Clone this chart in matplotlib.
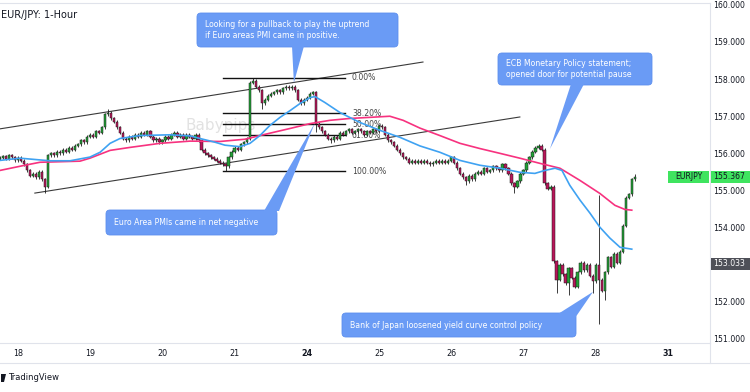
import matplotlib
matplotlib.use("Agg")
import matplotlib.pyplot as plt
from matplotlib.patches import FancyBboxPatch, Polygon, Rectangle
from matplotlib.lines import Line2D

# hourly candles, hour 0 = start of the 18th, weekend removed
first_hour = -6
first_open = 155.85
closes = [
    155.88, 155.92, 155.85, 155.95, 155.90, 155.82, 155.88, 155.80, 155.70, 155.55, 155.40, 155.45,
    155.35, 155.50, 155.30, 155.10, 155.95, 156.00, 155.95, 156.05, 156.00, 156.10, 156.05, 156.15,
    156.10, 156.20, 156.25, 156.35, 156.30, 156.45, 156.50, 156.45, 156.60, 156.55, 156.70, 157.05,
    157.10, 156.95, 156.85, 156.70, 156.55, 156.40, 156.35, 156.45, 156.40, 156.50, 156.45, 156.55,
    156.50, 156.60, 156.45, 156.35, 156.40, 156.30, 156.35, 156.45, 156.40, 156.50, 156.55, 156.45,
    156.50, 156.40, 156.50, 156.45, 156.40, 156.50, 156.35, 156.10, 156.00, 155.95, 155.90, 155.85,
    155.80, 155.75, 155.70, 155.65, 155.90, 156.05, 156.15, 156.10, 156.25, 156.30, 156.40, 157.90,
    157.95, 157.80, 157.70, 157.35, 157.45, 157.55, 157.60, 157.65, 157.70, 157.65, 157.75, 157.80,
    157.75, 157.80, 157.70, 157.45, 157.35, 157.45, 157.50, 157.60, 157.65, 156.80, 156.70, 156.60,
    156.50, 156.40, 156.35, 156.45, 156.40, 156.55, 156.50, 156.60, 156.65, 156.55, 156.60, 156.65,
    156.60, 156.50, 156.60, 156.55, 156.65, 156.60, 156.75, 156.70, 156.50, 156.35, 156.30, 156.20,
    156.10, 156.00, 155.90, 155.85, 155.75, 155.80, 155.75, 155.80, 155.75, 155.80, 155.75, 155.70,
    155.75, 155.80, 155.75, 155.80, 155.75, 155.80, 155.90, 155.75, 155.60, 155.45, 155.35, 155.25,
    155.40, 155.30, 155.45, 155.50, 155.45, 155.60, 155.50, 155.55, 155.65, 155.60, 155.55, 155.70,
    155.60, 155.45, 155.20, 155.10, 155.25, 155.45, 155.55, 155.75, 155.90, 156.05, 156.15, 156.20,
    156.10, 155.20, 155.05, 155.10, 153.10, 152.60, 153.00, 152.75, 152.50, 152.90, 152.65, 152.40,
    152.80, 153.05, 152.85, 153.00, 152.70, 152.55, 153.00, 152.60, 152.30, 152.80, 153.20, 152.95,
    153.30, 153.05, 153.35, 154.05, 154.80, 154.90, 155.30, 155.367,
]
highs = {30: 157.20, 78: 158.04, 92: 157.85, 173: 156.25, 193: 154.87, 205: 155.45}
lows = {9: 154.93, 69: 155.52, 81: 157.20, 99: 156.57, 104: 156.28, 149: 155.15,
        165: 154.92, 179: 152.25, 183: 152.18, 191: 152.25, 193: 151.40, 195: 152.05}

# moving averages
fast_h = [-6, 0.7, 10.6, 17.3, 23.9, 27.3, 30.6, 33.9, 40.5, 50.5, 57.2, 60.5, 65.5, 68.8,
          73.8, 77.1, 80.4, 83.7, 87.1, 90.4, 93.7, 97, 98.7, 102, 107, 113.7, 120.3, 127,
          133.6, 140.2, 146.9, 153.5, 160.2, 166.8, 171.8, 175.1, 178.5, 180.8, 183.4, 186.8,
          190.1, 193.4, 196.7, 200.1, 204]
fast_v = [155.81, 155.87, 155.80, 155.80, 155.90, 156.03, 156.27, 156.40, 156.48, 156.50, 156.47,
          156.40, 156.30, 156.22, 156.18, 156.27, 156.48, 156.75, 156.97, 157.15, 157.34, 157.50,
          157.53, 157.37, 157.10, 156.83, 156.62, 156.43, 156.20, 156.03, 155.81, 155.68, 155.60,
          155.49, 155.46, 155.54, 155.60, 155.54, 155.14, 154.74, 154.39, 154.01, 153.72, 153.47,
          153.42]
slow_h = [-6, 2.3, 7.3, 20.6, 23.9, 30.6, 37.2, 47.2, 57.2, 67.1, 75.4, 80.4, 90.4, 97,
          103.7, 110.3, 117, 123.6, 128, 133.6, 140.2, 146.9, 153.5, 160.2, 166.8, 173.5,
          180.1, 186.8, 193.4, 198.4, 201.7, 204]
slow_v = [155.54, 155.68, 155.76, 155.79, 155.87, 156.08, 156.16, 156.27, 156.33, 156.32, 156.38,
          156.48, 156.67, 156.80, 156.89, 156.94, 156.97, 157.00, 156.89, 156.68, 156.48, 156.27,
          156.13, 156.00, 155.87, 155.73, 155.60, 155.27, 154.92, 154.60, 154.49, 154.47]

day_pos = [0, 24, 48, 72, 96, 120, 144, 168, 192, 216]
day_labels = ['18', '19', '20', '21', '24', '25', '26', '27', '28', '31']
week_starts = ['24', '31']
# 153.000 is hidden behind the 153.033 marker on the original
price_ticks = [151, 152, 154, 155, 156, 157, 158, 159, 160]

# channel lines
upper_h = [-6.0, 134.6]
upper_p = [156.66, 158.46]
lower_h = [5.6, 166.8]
lower_p = [154.93, 156.98]

# fibonacci retracement
fib_h = [68.1, 108.7]
fib_top = 158.04
fib_bottom = 155.52
fib_ratios = [0.0, 0.382, 0.5, 0.618, 1.0]
fib_labels = ['0.00%', '38.20%', '50.00%', '61.80%', '100.00%']
fib_label_h = 111

last_price = 155.367
marked_price = 153.033

# text, box (px), pointer base (px), pointer tip (hour, price)
notes = [
    ("Looking for a pullback to play the uptrend\nif Euro areas PMI came in positive.",
     (197, 13, 398, 47), [(292, 46), (304, 46)], (91.7, 157.90)),
    ("ECB Monetary Policy statement;\nopened door for potential pause",
     (498, 53, 652, 85), [(571, 84), (584, 84)], (176.8, 156.12)),
    ("Euro Area PMIs came in net negative",
     (106, 210, 277, 235), [(264, 211), (279, 211)], (98.7, 156.82)),
    ("Bank of Japan loosened yield curve control policy",
     (342, 313, 576, 337), [(558, 314), (575, 318)], (191.1, 152.27)),
]

up_col = '#22a136'
down_col = '#b8165a'
edge_col = '#1c1c1c'
note_col = '#6a9bf5'
grid_col = '#e0e3eb'
text_col = '#131722'
wick_pad = 0.04

fig = plt.figure(figsize=(7.5, 3.92), dpi=100)
ax = fig.add_axes([0, 49 / 392, 710 / 750, 340 / 392])
ax.set_xlim(-5.98, 230)
ax.set_ylim(150.892, 160.05)

hours = list(range(first_hour, first_hour + len(closes)))
opens = [first_open] + closes[:-1]
bottoms, heights, colors, his, los = [], [], [], [], []
for h, o, c in zip(hours, opens, closes):
    bottoms.append(min(o, c))
    heights.append(max(abs(c - o), 0.012))
    colors.append(up_col if c >= o else down_col)
    his.append(highs.get(h, max(o, c) + wick_pad))
    los.append(lows.get(h, min(o, c) - wick_pad))

ax.vlines(hours, los, his, color=edge_col, lw=0.6, zorder=3)
ax.bar(hours, heights, bottom=bottoms, width=0.75, color=colors,
       edgecolor=edge_col, linewidth=0.35, zorder=3.5)

ax.plot(slow_h, slow_v, color='#f7327f', lw=1.2, zorder=4)
ax.plot(fast_h, fast_v, color='#3fa2f2', lw=1.2, zorder=4.1)

ax.plot(upper_h, upper_p, color='#3a3a3a', lw=0.8, zorder=2)
ax.plot(lower_h, lower_p, color='#3a3a3a', lw=0.8, zorder=2)

for r, lab in zip(fib_ratios, fib_labels):
    lvl = fib_top - r * (fib_top - fib_bottom)
    ax.plot(fib_h, [lvl, lvl], color='#111111', lw=1.0, zorder=2.2)
    ax.text(fib_label_h, lvl, lab, fontsize=5.6, color='#444444', va='center',
            ha='left', zorder=2.2)

ax.text(67.5, 156.76, 'Babypips', fontsize=11, color='#e2e2e2', ha='center',
        va='center', zorder=0.5)

ax.spines['left'].set_visible(False)
for s in ['top', 'right', 'bottom']:
    ax.spines[s].set_color(grid_col)
    ax.spines[s].set_linewidth(0.8)

ax.yaxis.tick_right()
ax.set_yticks(price_ticks, [f'{p:.3f}' for p in price_ticks])
ax.set_xticks(day_pos, day_labels)
ax.tick_params(axis='y', length=0, pad=2.5, labelsize=5.6, labelcolor=text_col)
ax.tick_params(axis='x', length=0, pad=4, labelsize=5.8, labelcolor=text_col)
for t in ax.get_xticklabels():
    if t.get_text() in week_starts:
        t.set_fontweight('bold')

fig.add_artist(Line2D([0, 1], [1 - 363 / 392] * 2, color=grid_col, lw=0.8,
                      transform=fig.transFigure))
fig.add_artist(Line2D([710 / 750] * 2, [1 - 363 / 392, 49 / 392], color=grid_col, lw=0.8,
                      transform=fig.transFigure))

# overlay in pixel units for annotations
ov = fig.add_axes([0, 0, 1, 1], zorder=5)
ov.set_xlim(0, 750)
ov.set_ylim(392, 0)
ov.axis('off')
ov.patch.set_alpha(0)


def to_px(h, p):
    d = ax.transData.transform((h, p))
    return ov.transData.inverted().transform(d)


ov.text(1, 15, 'EUR/JPY: 1-Hour', fontsize=7, color=text_col, va='center', ha='left')

for text, (x0, y0, x1, y1), base, tip in notes:
    ov.add_patch(FancyBboxPatch((x0, y0), x1 - x0, y1 - y0,
                                boxstyle='round,pad=0,rounding_size=4',
                                fc=note_col, ec='#5d8fee', lw=0.6))
    tx, ty = to_px(*tip)
    ov.add_patch(Polygon([base[0], base[1], (tx, ty)], closed=True, fc=note_col, ec='none'))
    ov.text(x0 + 8, (y0 + y1) / 2, text, color='white', fontsize=5.6, va='center',
            ha='left', linespacing=1.3)

_, ly = to_px(0, last_price)
ov.add_patch(Rectangle((668, ly - 6), 41, 12, fc='#3fe45f', ec='none'))
ov.text(688.5, ly, 'EURJPY', fontsize=5.6, color=text_col, ha='center', va='center')
ov.add_patch(Rectangle((711, ly - 6), 39, 12, fc='#3fe45f', ec='none'))
ov.text(713, ly, f'{last_price:.3f}', fontsize=5.6, color=text_col, ha='left', va='center')

_, my = to_px(0, marked_price)
ov.add_patch(Rectangle((711, my - 6), 39, 12, fc='#4e5058', ec='none'))
ov.text(713, my, f'{marked_price:.3f}', fontsize=5.6, color='white', ha='left', va='center')

ov.add_patch(Polygon([(1, 374), (6, 374), (4, 382), (1, 382)], closed=True, fc='#131722', ec='none'))
ov.text(8, 378, 'TradingView', fontsize=6, color=text_col, ha='left', va='center')

fig.savefig('out.png', dpi=100)
